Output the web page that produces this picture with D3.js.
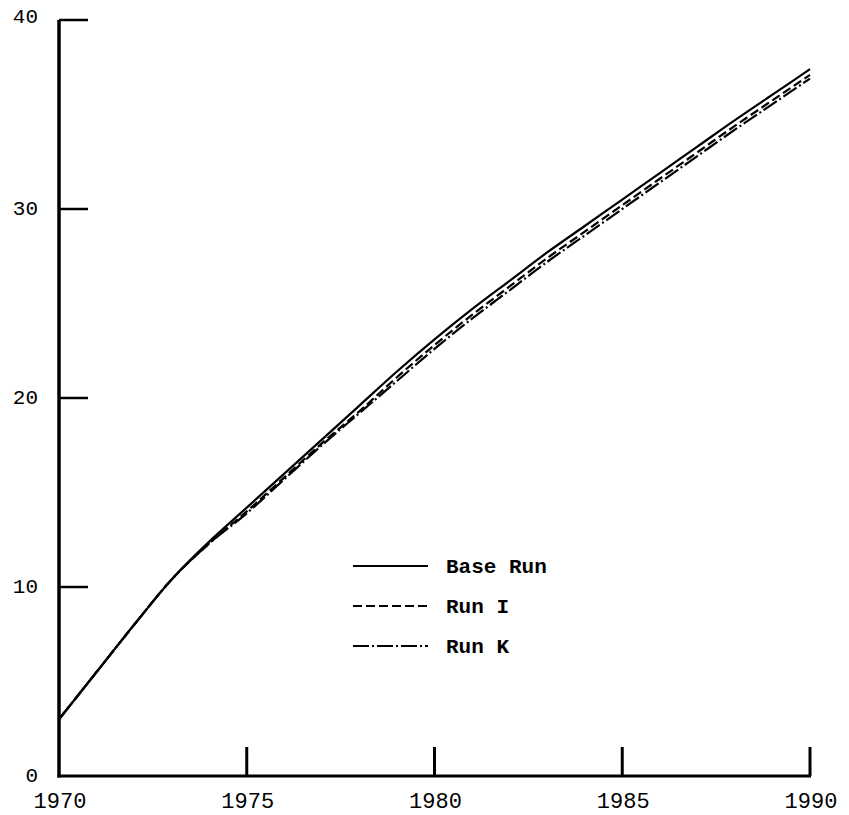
<!DOCTYPE html>
<html><head><meta charset="utf-8">
<script src="https://cdn.jsdelivr.net/npm/d3@7"></script>
<style>body{margin:0;background:#fff}svg{display:block}</style>
</head><body>
<script>
const years = [1970,1971,1972,1973,1974,1975,1976,1977,1978,1979,1980,1981,1982,1983,1984,1985,1986,1987,1988,1989,1990];
const baseRun = [3.0,5.5,8.0,10.4,12.4,14.2,16.0,17.8,19.6,21.4,23.1,24.7,26.2,27.7,29.1,30.5,31.9,33.3,34.7,36.05,37.4];
const runI    = [3.0,5.5,8.0,10.4,12.3,14.0,15.8,17.6,19.3,21.1,22.8,24.4,25.9,27.4,28.8,30.2,31.6,33.0,34.4,35.75,37.1];
const runK    = [3.0,5.5,8.0,10.4,12.3,13.9,15.7,17.5,19.2,20.9,22.6,24.2,25.7,27.2,28.6,30.0,31.4,32.8,34.2,35.55,36.9];
const xTicks = [1970,1975,1980,1985,1990];
const yTicks = [0,10,20,30,40];
const seriesNames = ["Base Run","Run I","Run K"];

const W=849,H=815;
const svg=d3.select("body").append("svg").attr("width",W).attr("height",H);
const x=d3.scaleLinear().domain([1970,1990]).range([59,810]);
const y=d3.scaleLinear().domain([0,40]).range([776,20]);
const font="'Liberation Mono', 'Courier New', monospace";

// axes lines
svg.append("line").attr("x1",x(1970)).attr("x2",x(1970)).attr("y1",y(40)).attr("y2",y(0)+1.5).attr("stroke","#000").attr("stroke-width",3.5);
svg.append("line").attr("x1",x(1970)-1.5).attr("x2",x(1990)+1).attr("y1",y(0)).attr("y2",y(0)).attr("stroke","#000").attr("stroke-width",3);

// y ticks
svg.selectAll(".yt").data(yTicks.filter(d=>d>0)).enter().append("line")
  .attr("x1",x(1970)).attr("x2",x(1970)+29).attr("y1",d=>y(d)).attr("y2",d=>y(d))
  .attr("stroke","#000").attr("stroke-width",2.5);
svg.selectAll(".yl").data(yTicks).enter().append("text")
  .attr("x",38).attr("y",d=>d===40?y(d)+3:y(d)+6).attr("text-anchor","end")
  .attr("font-family",font).attr("font-size",21).text(d=>d);

// x ticks
svg.selectAll(".xt").data(xTicks.filter(d=>d>1970)).enter().append("line")
  .attr("x1",d=>x(d)).attr("x2",d=>x(d)).attr("y1",y(0)-29).attr("y2",y(0))
  .attr("stroke","#000").attr("stroke-width",3);
svg.selectAll(".xl").data(xTicks).enter().append("text")
  .attr("x",d=>x(d)+1).attr("y",808).attr("text-anchor","middle")
  .attr("font-family",font).attr("font-size",22).text(d=>d);

const dashes=[null,"9,4","16,3,2,3"];
const data=[baseRun,runI,runK];
const line=d3.line().x((d,i)=>x(years[i])).y(d=>y(d)).curve(d3.curveMonotoneX);
data.forEach((s,k)=>{
  svg.append("path").attr("d",line(s)).attr("fill","none").attr("stroke","#000")
    .attr("stroke-width",2.2).attr("stroke-dasharray",dashes[k]);
});

// legend
const ly=[566,606,646];
seriesNames.forEach((n,k)=>{
  svg.append("line").attr("x1",353).attr("x2",428).attr("y1",ly[k]).attr("y2",ly[k])
    .attr("stroke","#000").attr("stroke-width",1.8).attr("stroke-dasharray",dashes[k]);
  svg.append("text").attr("x",446).attr("y",ly[k]+7).attr("font-family",font)
    .attr("font-size",21).attr("font-weight","bold").text(n);
});
</script>
</body></html>
